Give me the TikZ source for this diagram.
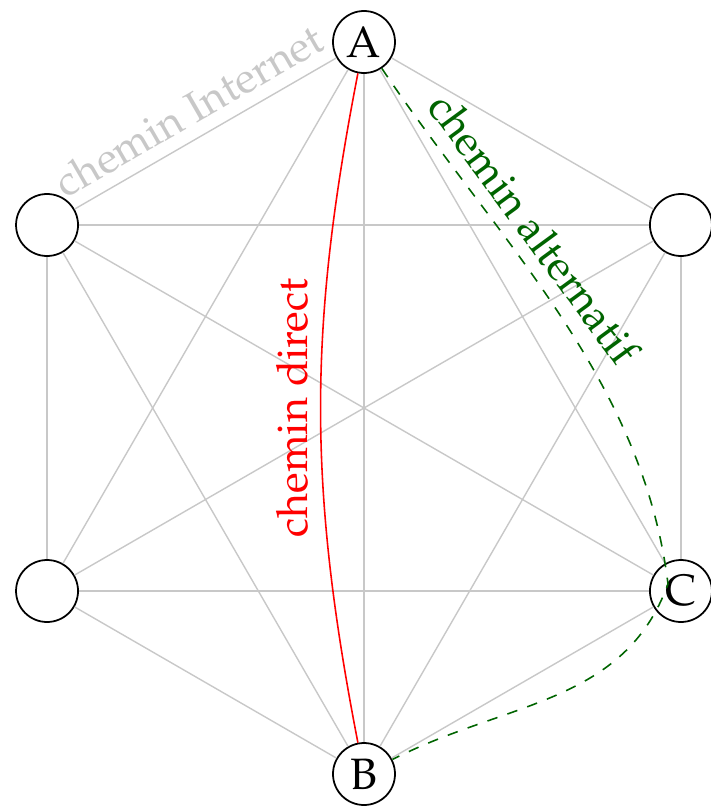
\documentclass[tikz,border=0pt]{standalone}
\usepackage[T1]{fontenc}
\usepackage{mathpazo}
\usetikzlibrary{positioning}
\definecolor{edgegray}{RGB}{200, 200, 200}
\definecolor{directcolor}{RGB}{255, 0, 0}
\definecolor{altcolor}{RGB}{0, 100, 0}
\begin{document}
\begin{tikzpicture}[
      vertex/.style={circle, draw=black, line width=0.5pt, minimum size=6.2mm,
                     inner sep=0pt, font=\fontsize{12.5}{15}\selectfont},
      link/.style={draw=edgegray, line width=0.4pt},
      direct/.style={draw=directcolor, line width=0.45pt},
      alt/.style={draw=altcolor, line width=0.45pt, dashed},
      lbl/.style={font=\fontsize{12.2}{14}\selectfont}
    ]
      \useasboundingbox (-3.64,-4.00) rectangle (3.47,4.08);

      \node[vertex] (A)  at (90:3.66)  {A};
      \node[vertex] (n1) at (150:3.66) {};
      \node[vertex] (n2) at (210:3.66) {};
      \node[vertex] (B)  at (270:3.66) {B};
      \node[vertex] (C)  at (330:3.66) {C};
      \node[vertex] (n3) at (30:3.66)  {};

      % reseau complet
      \foreach \u/\v in {A/n1, A/n2, A/B, A/C, A/n3, n1/n2, n1/B, n1/C, n1/n3,
                         n2/B, n2/C, n2/n3, B/C, B/n3, C/n3}
        \draw[link] (\u) -- (\v);

      \path (n1) -- node[lbl, pos=0.49, sloped, above, text=edgegray] {chemin Internet} (A);

      % chemin direct
      \draw[direct] (B) to[bend left=11]
        node[lbl, midway, sloped, above, text=directcolor] {chemin direct} (A);

      % chemin alternatif
      \coordinate (via) at (3.04,-1.76);
      \draw[alt] (A) to[out=-56, in=97, looseness=0.9]
        node[lbl, pos=0.36, sloped, above, text=altcolor] {chemin alternatif} (via)
        to[out=-110, in=27] (B);
    \end{tikzpicture}
\end{document}
